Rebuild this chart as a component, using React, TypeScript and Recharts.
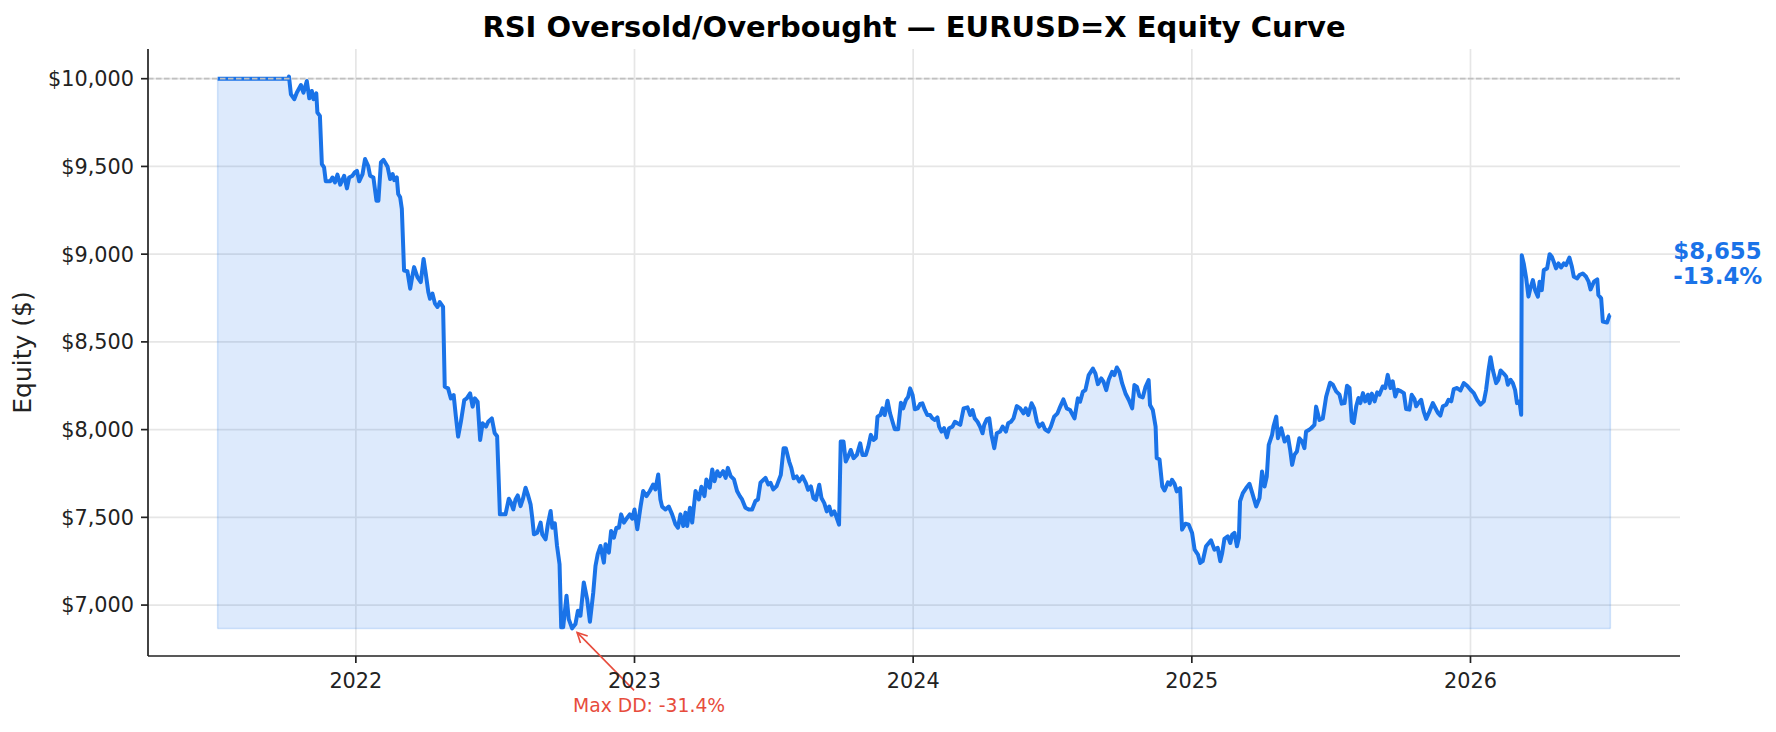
import React from 'react';
import { ComposedChart, Area, XAxis, YAxis, CartesianGrid, ReferenceLine, ReferenceDot, Label } from 'recharts';

// decimal year of each sample
const years = [
  2021.504, 2021.757, 2021.760, 2021.767, 2021.779, 2021.788, 2021.803, 2021.812, 2021.824, 2021.833,
  2021.842, 2021.848, 2021.858, 2021.862, 2021.871, 2021.878, 2021.886, 2021.892, 2021.908, 2021.916,
  2021.925, 2021.934, 2021.944, 2021.958, 2021.968, 2021.976, 2021.988, 2021.996, 2022.004, 2022.012,
  2022.024, 2022.033, 2022.044, 2022.051, 2022.063, 2022.074, 2022.081, 2022.090, 2022.099, 2022.114,
  2022.123, 2022.132, 2022.138, 2022.147, 2022.152, 2022.159, 2022.165, 2022.173, 2022.185, 2022.195,
  2022.202, 2022.209, 2022.221, 2022.233, 2022.243, 2022.251, 2022.260, 2022.266, 2022.275, 2022.284,
  2022.293, 2022.301, 2022.313, 2022.319, 2022.331, 2022.341, 2022.351, 2022.359, 2022.367, 2022.377,
  2022.389, 2022.398, 2022.410, 2022.419, 2022.427, 2022.437, 2022.446, 2022.455, 2022.467, 2022.475,
  2022.488, 2022.498, 2022.507, 2022.513, 2022.517, 2022.537, 2022.549, 2022.557, 2022.565, 2022.573,
  2022.581, 2022.591, 2022.599, 2022.609, 2022.617, 2022.627, 2022.633, 2022.639, 2022.651, 2022.663,
  2022.669, 2022.681, 2022.689, 2022.699, 2022.705, 2022.714, 2022.722, 2022.731, 2022.737, 2022.744,
  2022.756, 2022.764, 2022.776, 2022.788, 2022.797, 2022.806, 2022.818, 2022.830, 2022.840, 2022.852,
  2022.860, 2022.868, 2022.878, 2022.890, 2022.896, 2022.908, 2022.916, 2022.926, 2022.935, 2022.944,
  2022.952, 2022.962, 2022.974, 2022.983, 2022.992, 2023.000, 2023.010, 2023.022, 2023.031, 2023.043,
  2023.055, 2023.067, 2023.075, 2023.085, 2023.093, 2023.099, 2023.111, 2023.123, 2023.135, 2023.147,
  2023.156, 2023.165, 2023.175, 2023.183, 2023.189, 2023.199, 2023.207, 2023.219, 2023.231, 2023.240,
  2023.251, 2023.258, 2023.270, 2023.279, 2023.287, 2023.297, 2023.306, 2023.318, 2023.327, 2023.335,
  2023.345, 2023.357, 2023.368, 2023.378, 2023.386, 2023.398, 2023.410, 2023.422, 2023.434, 2023.443,
  2023.452, 2023.470, 2023.480, 2023.488, 2023.498, 2023.510, 2023.525, 2023.535, 2023.543, 2023.555,
  2023.563, 2023.571, 2023.582, 2023.591, 2023.603, 2023.615, 2023.623, 2023.633, 2023.642, 2023.651,
  2023.663, 2023.671, 2023.681, 2023.690, 2023.699, 2023.707, 2023.717, 2023.726, 2023.734, 2023.740,
  2023.750, 2023.758, 2023.767, 2023.776, 2023.786, 2023.798, 2023.810, 2023.818, 2023.830, 2023.839,
  2023.848, 2023.858, 2023.866, 2023.872, 2023.882, 2023.890, 2023.898, 2023.908, 2023.917, 2023.926,
  2023.934, 2023.946, 2023.956, 2023.964, 2023.974, 2023.982, 2023.989, 2023.998, 2024.006, 2024.016,
  2024.025, 2024.033, 2024.042, 2024.051, 2024.061, 2024.069, 2024.078, 2024.087, 2024.093, 2024.102,
  2024.111, 2024.121, 2024.129, 2024.141, 2024.150, 2024.159, 2024.169, 2024.181, 2024.195, 2024.205,
  2024.213, 2024.221, 2024.231, 2024.240, 2024.249, 2024.255, 2024.264, 2024.273, 2024.281, 2024.291,
  2024.300, 2024.312, 2024.321, 2024.333, 2024.341, 2024.351, 2024.360, 2024.372, 2024.384, 2024.396,
  2024.404, 2024.413, 2024.425, 2024.434, 2024.444, 2024.452, 2024.464, 2024.473, 2024.485, 2024.494,
  2024.506, 2024.518, 2024.525, 2024.539, 2024.551, 2024.563, 2024.579, 2024.591, 2024.599, 2024.609,
  2024.618, 2024.630, 2024.645, 2024.654, 2024.663, 2024.675, 2024.683, 2024.693, 2024.702, 2024.714,
  2024.722, 2024.731, 2024.740, 2024.750, 2024.762, 2024.774, 2024.786, 2024.794, 2024.803, 2024.812,
  2024.824, 2024.834, 2024.845, 2024.850, 2024.860, 2024.870, 2024.874, 2024.884, 2024.894, 2024.902,
  2024.914, 2024.922, 2024.929, 2024.938, 2024.946, 2024.958, 2024.965, 2024.977, 2024.989, 2025.001,
  2025.010, 2025.022, 2025.030, 2025.039, 2025.051, 2025.069, 2025.081, 2025.093, 2025.102, 2025.109,
  2025.117, 2025.129, 2025.138, 2025.145, 2025.153, 2025.162, 2025.169, 2025.173, 2025.183, 2025.195,
  2025.207, 2025.217, 2025.231, 2025.243, 2025.252, 2025.261, 2025.269, 2025.276, 2025.288, 2025.293,
  2025.303, 2025.309, 2025.321, 2025.333, 2025.345, 2025.353, 2025.360, 2025.368, 2025.377, 2025.386,
  2025.396, 2025.404, 2025.410, 2025.420, 2025.428, 2025.440, 2025.446, 2025.458, 2025.470, 2025.482,
  2025.496, 2025.506, 2025.518, 2025.530, 2025.538, 2025.548, 2025.557, 2025.566, 2025.574, 2025.581,
  2025.590, 2025.598, 2025.605, 2025.614, 2025.622, 2025.632, 2025.638, 2025.646, 2025.656, 2025.665,
  2025.673, 2025.685, 2025.694, 2025.703, 2025.713, 2025.721, 2025.730, 2025.739, 2025.751, 2025.761,
  2025.769, 2025.781, 2025.789, 2025.799, 2025.805, 2025.813, 2025.823, 2025.832, 2025.841, 2025.853,
  2025.865, 2025.874, 2025.883, 2025.892, 2025.901, 2025.913, 2025.921, 2025.931, 2025.940, 2025.952,
  2025.964, 2025.976, 2025.988, 2026.000, 2026.012, 2026.024, 2026.036, 2026.048, 2026.056, 2026.065,
  2026.072, 2026.080, 2026.092, 2026.100, 2026.108, 2026.120, 2026.128, 2026.134, 2026.144, 2026.152,
  2026.160, 2026.167, 2026.176, 2026.182, 2026.184, 2026.191, 2026.200, 2026.208, 2026.215, 2026.224,
  2026.232, 2026.242, 2026.248, 2026.256, 2026.263, 2026.275, 2026.284, 2026.292, 2026.299, 2026.307,
  2026.316, 2026.325, 2026.335, 2026.343, 2026.355, 2026.364, 2026.371, 2026.383, 2026.391, 2026.403,
  2026.415, 2026.424, 2026.431, 2026.443, 2026.455, 2026.459, 2026.469, 2026.475, 2026.490, 2026.499,
  2026.502,
];

const equity = [
  10000, 10000, 10012, 9911, 9883, 9920, 9964, 9920, 9987, 9888,
  9930, 9883, 9917, 9807, 9788, 9513, 9494, 9415, 9415, 9437,
  9409, 9453, 9396, 9447, 9375, 9437, 9447, 9466, 9475, 9415,
  9456, 9542, 9504, 9447, 9437, 9305, 9305, 9523, 9538, 9498,
  9428, 9456, 9422, 9437, 9343, 9324, 9258, 8907, 8903, 8803,
  8869, 8926, 8869, 8841, 8973, 8888, 8784, 8746, 8775, 8718,
  8699, 8727, 8699, 8244, 8235, 8178, 8197, 8074, 7960, 8045,
  8168, 8178, 8206, 8131, 8178, 8159, 7941, 8036, 8017, 8045,
  8064, 7981, 7962, 7697, 7517, 7517, 7606, 7583, 7545, 7602,
  7625, 7564, 7602, 7669, 7631, 7574, 7498, 7403, 7413, 7470,
  7403, 7375, 7460, 7536, 7441, 7466, 7337, 7233, 6873, 6873,
  7053, 6920, 6867, 6892, 6968, 6939, 7129, 7034, 6905, 7072,
  7223, 7290, 7337, 7242, 7347, 7299, 7422, 7384, 7441, 7441,
  7517, 7470, 7498, 7517, 7492, 7545, 7432, 7564, 7650, 7621,
  7650, 7687, 7659, 7744, 7602, 7561, 7545, 7561, 7517, 7460,
  7441, 7517, 7451, 7527, 7451, 7555, 7470, 7650, 7602, 7674,
  7621, 7716, 7669, 7773, 7706, 7763, 7735, 7763, 7725, 7782,
  7735, 7716, 7650, 7621, 7602, 7555, 7545, 7545, 7593, 7602,
  7697, 7725, 7687, 7697, 7659, 7678, 7742, 7894, 7894, 7818,
  7780, 7723, 7733, 7705, 7733, 7695, 7657, 7676, 7610, 7600,
  7686, 7610, 7581, 7534, 7562, 7515, 7534, 7496, 7458, 7932,
  7932, 7818, 7847, 7884, 7837, 7856, 7922, 7856, 7856, 7903,
  7970, 7941, 7951, 8074, 8083, 8121, 8083, 8165, 8093, 8045,
  8002, 8002, 8153, 8121, 8169, 8187, 8235, 8197, 8116, 8121,
  8146, 8150, 8112, 8083, 8083, 8064, 8055, 8070, 8017, 7989,
  8008, 7956, 8008, 8017, 8045, 8036, 8027, 8121, 8127, 8083,
  8112, 8064, 8045, 8017, 7979, 8027, 8059, 8064, 7970, 7894,
  7979, 7989, 8017, 7989, 8036, 8045, 8064, 8134, 8121, 8093,
  8121, 8083, 8150, 8121, 8045, 8017, 8036, 8002, 7989, 8017,
  8074, 8093, 8121, 8172, 8121, 8112, 8064, 8178, 8159, 8216,
  8225, 8311, 8348, 8320, 8259, 8292, 8273, 8225, 8286, 8330,
  8311, 8354, 8330, 8263, 8206, 8169, 8121, 8254, 8244, 8191,
  8184, 8244, 8282, 8140, 8112, 8017, 7837, 7831, 7676, 7653,
  7699, 7686, 7714, 7691, 7648, 7667, 7430, 7464, 7458, 7411,
  7316, 7288, 7240, 7250, 7335, 7369, 7316, 7326, 7250, 7297,
  7377, 7392, 7354, 7402, 7411, 7335, 7383, 7591, 7638, 7667,
  7691, 7638, 7562, 7610, 7761, 7676, 7733, 7913, 7970, 8017,
  8074, 7951, 8008, 7932, 7960, 7884, 7799, 7856, 7875, 7951,
  7932, 7894, 7989, 7998, 8008, 8027, 8131, 8055, 8064, 8187,
  8267, 8256, 8218, 8199, 8148, 8151, 8250, 8237, 8047, 8038,
  8133, 8180, 8151, 8208, 8161, 8199, 8151, 8205, 8161, 8212,
  8199, 8246, 8237, 8312, 8237, 8275, 8189, 8227, 8218, 8208,
  8117, 8114, 8199, 8174, 8133, 8151, 8170, 8104, 8061, 8104,
  8151, 8123, 8095, 8080, 8133, 8142, 8170, 8161, 8231, 8237,
  8223, 8265, 8250, 8227, 8208, 8170, 8142, 8161, 8227, 8341,
  8413, 8341, 8265, 8284, 8337, 8318, 8303, 8256, 8284, 8265,
  8227, 8151, 8161, 8085, 8994, 8947, 8862, 8758, 8805, 8852,
  8795, 8758, 8843, 8795, 8909, 8919, 9000, 8985, 8956, 8919,
  8947, 8924, 8947, 8938, 8981, 8928, 8871, 8862, 8881, 8890,
  8871, 8843, 8799, 8843, 8856, 8767, 8748, 8616, 8610, 8653,
  8655,
];

const yearTicks = [2022, 2023, 2024, 2025, 2026];
const equityTicks = [7000, 7500, 8000, 8500, 9000, 9500, 10000];
const startingCapital = 10000;
const finalValueLabel = '$8,655';
const finalReturnLabel = '-13.4%';
const maxDrawdownLabel = 'Max DD: -31.4%';

const BLUE = '#1a73e8';
const RED = '#e74c3c';
const INK = '#222222';
const FONT = '"DejaVu Sans", sans-serif';

const data = years.map((t, i) => ({ t, v: equity[i] }));
const last = equity.length - 1;
const yLow = Math.min(...equity);
const yHigh = Math.max(...equity);
const lowIdx = equity.indexOf(yLow);
const xPad = (years[last] - years[0]) * 0.05;
const yPad = (yHigh - yLow) * 0.05;
const xDomain = [years[0] - xPad, years[last] + xPad];
const yDomain = [yLow - yPad, yHigh + yPad];

const money = (v: number) => '$' + v.toLocaleString('en-US');

// grid only at the tick positions (no lines on the plot border)
const gridRows = ({ offset }: any) =>
  equityTicks.map((t) => offset.top + ((yDomain[1] - t) / (yDomain[1] - yDomain[0])) * offset.height);
const gridCols = ({ offset }: any) =>
  yearTicks.map((t) => offset.left + ((t - xDomain[0]) / (xDomain[1] - xDomain[0])) * offset.width);

const EndLabel = (props: any) => {
  const { cx, cy } = props;
  return (
    <g>
      <text x={cx + 63} y={cy - 56} fill={BLUE} fontSize={22.9} fontWeight="bold" fontFamily={FONT}>
        {finalValueLabel}
      </text>
      <text x={cx + 63} y={cy - 31} fill={BLUE} fontSize={22.9} fontWeight="bold" fontFamily={FONT}>
        {finalReturnLabel}
      </text>
    </g>
  );
};

const DrawdownNote = (props: any) => {
  const { cx, cy } = props;
  const hx = cx + 5;
  const hy = cy + 4;
  return (
    <g>
      <line x1={cx + 62} y1={cy + 62} x2={hx} y2={hy} stroke={RED} strokeWidth={1.6} />
      <polyline
        points={`${hx + 10.6},${hy + 3.6} ${hx},${hy} ${hx + 3.4},${hy + 10.6}`}
        fill="none"
        stroke={RED}
        strokeWidth={1.6}
      />
      <text x={cx + 77} y={cy + 84} textAnchor="middle" fill={RED} fontSize={18.75} fontFamily={FONT}>
        {maxDrawdownLabel}
      </text>
    </g>
  );
};

const YTitle = (props: any) => {
  const { viewBox } = props;
  const x = viewBox.x + 31;
  const y = viewBox.y + viewBox.height / 2;
  return (
    <text x={x} y={y} transform={`rotate(-90, ${x}, ${y})`} textAnchor="middle" fill={INK} fontSize={25} fontFamily={FONT}>
      Equity ($)
    </text>
  );
};

export default function App() {
  return (
    <div style={{ position: 'absolute', left: 0, top: 0, width: 1776, height: 732, background: '#fff' }}>
      <div
        style={{
          position: 'absolute', left: 148, top: 10, width: 1532, textAlign: 'center',
          fontFamily: FONT, fontWeight: 'bold', fontSize: 29, lineHeight: '34px', color: '#000',
        }}
      >
        RSI Oversold/Overbought — EURUSD=X Equity Curve
      </div>
      <ComposedChart width={1776} height={732} data={data} margin={{ top: 49, right: 96, bottom: 36, left: 0 }}>
        <CartesianGrid
          stroke="#e6e6e6"
          strokeWidth={1.7}
          horizontalCoordinatesGenerator={gridRows}
          verticalCoordinatesGenerator={gridCols}
        />
        <XAxis
          dataKey="t"
          type="number"
          domain={xDomain}
          ticks={yearTicks}
          tickFormatter={(v: number) => String(v)}
          allowDataOverflow
          height={40}
          tickSize={7}
          tickMargin={10}
          axisLine={{ stroke: INK, strokeWidth: 1.7 }}
          tickLine={{ stroke: INK, strokeWidth: 1.7 }}
          tick={{ fill: INK, fontSize: 20.8, fontFamily: FONT }}
        />
        <YAxis
          type="number"
          domain={yDomain}
          ticks={equityTicks}
          tickFormatter={money}
          allowDataOverflow
          width={148}
          tickSize={7}
          tickMargin={7}
          axisLine={{ stroke: INK, strokeWidth: 1.7 }}
          tickLine={{ stroke: INK, strokeWidth: 1.7 }}
          tick={{ fill: INK, fontSize: 20.8, fontFamily: FONT }}
        >
          <Label content={<YTitle />} />
        </YAxis>
        <ReferenceLine y={startingCapital} stroke="#c0c0c0" strokeWidth={1.7} strokeDasharray="5.5 2.5" />
        <Area
          type="linear"
          dataKey="v"
          baseValue={yLow}
          stroke={BLUE}
          strokeWidth={4}
          strokeLinejoin="round"
          fill={BLUE}
          fillOpacity={0.15}
          dot={false}
          activeDot={false}
          isAnimationActive={false}
        />
        <ReferenceLine segment={[{ x: years[0], y: yLow }, { x: years[last], y: yLow }]} stroke={BLUE} strokeOpacity={0.18} strokeWidth={1.5} />
        <ReferenceLine segment={[{ x: years[0], y: yLow }, { x: years[0], y: equity[0] }]} stroke={BLUE} strokeOpacity={0.18} strokeWidth={1.5} />
        <ReferenceLine segment={[{ x: years[last], y: yLow }, { x: years[last], y: equity[last] }]} stroke={BLUE} strokeOpacity={0.18} strokeWidth={1.5} />
        <ReferenceDot x={years[lowIdx]} y={yLow} r={0} ifOverflow="visible" shape={(p: any) => <DrawdownNote {...p} />} />
        <ReferenceDot x={years[last]} y={equity[last]} r={0} ifOverflow="visible" shape={(p: any) => <EndLabel {...p} />} />
      </ComposedChart>
    </div>
  );
}
